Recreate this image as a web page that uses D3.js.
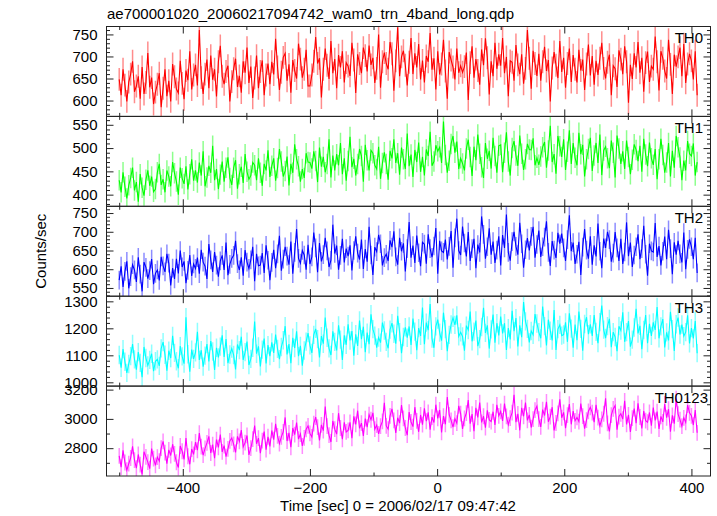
<!DOCTYPE html>
<html><head><meta charset="utf-8">
<script src="https://cdn.jsdelivr.net/npm/d3@7"></script>
<style>
html,body{margin:0;padding:0;background:#fff;}
svg{display:block;font-family:"Liberation Sans",Arial,Helvetica,sans-serif;}
</style></head><body>
<svg id="chart" width="717" height="516"></svg>
<script>
// ---------- data ----------
const title = "ae700001020_20060217094742_wam0_trn_4band_long.qdp";
const xLabel = "Time [sec] 0 = 2006/02/17 09:47:42";
const yLabel = "Counts/sec";
const bandNames = ["TH0", "TH1", "TH2", "TH3", "TH0123"];
const binStart = -500;   // time of first bin [sec]
const binWidth = 3;      // bin width [sec]
const errBars = [26, 22, 25, 34, 54];   // 1-sigma counting errors per band
const xTicks = [-400, -200, 0, 200, 400];
const yDomains = [[564, 768], [375, 568], [528, 768], [986, 1319], [2610, 3224]];
const yMajorStep = [50, 50, 50, 100, 200];
const yMinorStep = [10, 10, 10, 20, 100];

const th0 = [
648,612,671,635,598,642,660,689,620,633,655,604,676,615,641,708,630,652,592,619,
637,662,585,628,671,610,645,598,683,654,626,617,690,639,603,668,646,712,625,658,
681,634,760,652,615,660,693,628,702,647,671,609,688,724,655,637,666,679,598,643,
672,695,631,656,618,689,663,720,640,677,606,651,702,628,666,691,612,658,684,637,
688,659,740,676,624,664,698,707,645,682,618,692,668,650,729,694,652,671,715,633,
633,658,689,744,684,696,607,671,718,680,649,735,662,694,628,703,675,712,641,686,
678,656,731,692,617,705,684,662,720,702,666,725,681,697,640,673,750,629,688,709,
684,671,733,706,622,690,766,655,699,713,680,634,687,742,660,707,675,728,648,691,
641,701,688,753,670,696,625,712,659,683,738,667,604,710,692,676,648,718,663,679,
664,677,709,601,686,723,652,694,668,636,716,680,741,697,614,689,655,731,672,705,
679,742,662,699,610,690,687,645,726,681,660,705,638,673,760,696,627,713,684,656,
706,645,688,722,667,692,598,674,710,680,651,735,665,697,629,684,718,642,703,671,
641,715,668,693,624,683,727,657,701,636,690,658,696,731,673,650,687,704,612,679,
672,631,714,694,660,723,688,595,681,649,707,675,733,663,697,620,686,711,642,678,
671,745,688,623,712,696,667,650,738,682,615,704,677,699,720,655,728,640,683,706,
690,648,712,612];

const th1 = [
431,405,448,417,392,420,436,458,409,427,385,444,415,398,432,452,419,439,406,412,
448,466,421,433,405,452,439,418,470,446,428,400,458,435,423,461,411,444,476,430,
452,426,469,441,493,418,437,462,447,505,431,455,412,443,471,428,458,480,436,421,
458,474,413,444,460,425,487,449,433,441,469,463,431,478,447,419,466,452,495,438,
462,478,430,457,498,471,439,451,482,420,466,447,508,476,461,428,455,436,489,470,
469,456,493,472,427,501,460,481,448,466,519,437,484,452,487,463,511,444,478,430,
472,524,459,477,441,466,498,483,428,507,474,452,495,489,463,455,503,434,468,491,
466,432,494,478,519,468,489,443,501,476,455,531,461,486,438,496,470,512,449,481,
441,497,483,535,462,471,506,493,502,468,557,485,447,473,509,526,490,514,455,478,
467,452,499,518,481,440,503,474,529,488,459,436,511,477,494,456,522,483,447,505,
507,448,490,534,471,441,500,515,484,462,527,488,453,476,509,497,496,521,463,479,
464,482,502,513,458,495,548,470,487,445,526,504,481,519,453,492,538,466,511,479,
463,533,487,507,439,476,498,522,451,484,511,468,529,442,495,503,478,457,516,490,
437,527,499,466,493,455,516,481,444,475,508,496,472,505,449,520,486,461,512,478,
464,498,433,476,520,485,447,469,511,439,494,458,526,502,480,431,473,452,515,488,
483,510,441,470];

const th2 = [
571,608,553,594,621,549,580,612,598,566,632,587,541,619,605,575,596,627,560,589,
598,570,633,609,593,641,616,557,603,574,628,589,650,606,621,563,597,638,582,614,
602,631,588,652,619,608,574,667,625,593,646,611,580,622,637,598,671,584,613,629,
637,676,615,598,632,583,651,619,602,625,660,568,641,609,611,643,590,664,624,571,
618,652,603,641,689,596,627,660,635,612,674,588,645,707,629,616,650,638,599,665,
614,633,698,657,592,670,621,639,684,649,606,624,719,642,663,599,637,681,618,655,
635,664,597,650,688,643,626,679,601,654,620,713,638,585,659,647,692,668,610,631,
640,622,677,659,701,633,612,684,648,669,594,655,726,631,663,617,690,644,608,672,
667,615,693,655,632,662,710,588,676,649,645,679,626,661,702,604,684,735,650,638,
714,670,634,699,622,655,681,603,666,645,741,693,628,660,709,639,674,617,651,688,
610,691,657,746,645,623,674,700,661,639,724,668,604,652,683,650,688,713,631,666,
703,633,660,686,728,645,609,675,651,630,697,668,695,657,622,679,744,648,671,614,
640,673,585,659,707,651,628,688,612,664,634,722,648,603,682,657,700,679,620,643,
699,657,622,681,614,646,725,635,671,606,638,660,693,627,655,716,640,583,668,649,
646,723,633,662,610,648,687,627,705,655,587,672,639,676,641,618,698,600,653,680,
660,627,684,590];

const th3 = [
1101,1054,1123,1076,1035,1068,1097,1142,1085,1047,1112,1072,1019,1131,1090,1063,1083,1106,1041,1078,
1085,1061,1126,1149,1102,1043,1117,1090,1172,1109,1078,1052,1134,1096,1069,1241,1104,1039,1121,1087,
1111,1187,1083,1119,1058,1099,1142,1077,1153,1114,1046,1128,1092,1132,1174,1094,1160,1071,1103,1125,
1101,1048,1140,1119,1169,1083,1112,1151,1064,1087,1128,1225,1106,1133,1059,1121,1162,1070,1138,1097,
1148,1109,1177,1124,1086,1131,1156,1208,1103,1142,1071,1165,1127,1189,1097,1135,1062,1118,1151,1182,
1137,1109,1176,1198,1160,1092,1171,1143,1240,1165,1126,1101,1189,1150,1118,1211,1158,1083,1174,1139,
1215,1155,1190,1099,1178,1135,1229,1160,1206,1112,1184,1141,1252,1197,1173,1128,1166,1147,1221,1192,
1150,1126,1195,1219,1180,1143,1246,1186,1108,1168,1204,1165,1207,1138,1236,1188,1119,1201,1172,1277,
1141,1221,1193,1290,1162,1128,1207,1232,1184,1154,1258,1197,1115,1176,1214,1239,1213,1248,1170,1185,
1170,1117,1210,1194,1262,1152,1188,1229,1134,1160,1205,1276,1183,1211,1125,1196,1251,1147,1219,1174,
1244,1181,1219,1120,1201,1159,1265,1189,1238,1133,1211,1167,1297,1226,1198,1148,1190,1176,1253,1218,
1186,1163,1281,1208,1137,1232,1191,1155,1268,1120,1197,1213,1173,1177,1222,1150,1256,1199,1128,1214,
1156,1262,1198,1117,1216,1241,1178,1215,1172,1249,1187,1145,1223,1284,1195,1164,1208,1235,1130,1186,
1168,1115,1208,1192,1259,1150,1186,1227,1132,1158,1203,1272,1181,1209,1123,1194,1249,1145,1217,1172,
1222,1194,1279,1163,1207,1234,1129,1185,1155,1261,1197,1116,1215,1240,1177,1214,1171,1186,1248,1144,
1201,1163,1227,1108];

const th0123 = [
2748,2671,2785,2702,2650,2694,2733,2812,2719,2663,2757,2688,2621,2776,2741,2705,2660,2797,2729,2683,
2739,2712,2801,2846,2770,2695,2788,2750,2827,2761,2704,2668,2815,2779,2723,2869,2745,2690,2794,2758,
2842,2786,2903,2811,2752,2799,2836,2881,2767,2824,2731,2859,2806,2893,2775,2818,2742,2795,2850,2870,
2826,2771,2881,2846,2924,2809,2838,2887,2754,2801,2862,2955,2830,2869,2766,2851,2913,2790,2878,2812,
2921,2858,2966,2884,2831,2877,2912,3010,2849,2905,2806,2938,2893,2975,2862,2897,2815,2871,2929,2952,
2901,2877,2968,3012,2944,2853,2959,2920,3085,2951,2889,2842,2986,2930,2896,3039,2938,2861,2977,2911,
2921,2976,2868,3017,2962,3056,2935,2971,2884,3002,2944,3029,2994,3041,2930,2958,2897,2950,2983,3110,
2952,2930,3021,3068,2990,2905,3008,2971,3094,3003,2938,2889,3046,2979,2947,3080,2986,2912,3027,2961,
3072,2984,3045,2926,3012,2975,3097,3003,3061,2908,3019,2963,3150,3028,2990,2944,3001,2971,3089,3036,
2931,3003,3040,3128,2967,3033,2916,3075,3010,3111,2976,3018,2940,3058,2993,2982,3049,2958,3096,3021,
3051,2986,3104,3017,2960,3005,3043,3165,2978,3034,2922,3076,3018,3112,2990,3027,2941,2999,3060,3087,
2998,2945,3063,3023,3116,2981,3015,3080,2921,2972,3038,3133,3008,3045,2936,3026,3101,2963,3054,2987,
3010,2982,3104,3019,2933,2991,3052,3079,3043,2978,3096,3009,2952,2997,3035,3140,2970,2914,3026,3068,
3091,2926,3016,3035,2998,3123,2962,3028,2911,3005,3070,2971,3106,3013,2935,3053,2988,2977,3044,2953,
3077,2989,3050,2931,3017,2980,3102,3008,3066,2912,3024,2968,3138,3033,2995,2950,3007,2976,3094,3041,
3021,2958,3060,2905];

const seriesValues = [th0, th1, th2, th3, th0123];
const colors = ["#ff0000", "#00ff00", "#0000ff", "#00ffff", "#ff00ff"];

// ---------- layout ----------
const plotL = 106.5, plotR = 710.5, plotT = 26.5, plotB = 476;
const nP = bandNames.length;
const pH = (plotB - plotT) / nP;
const frameColor = "#222";
const fontSize = 15;

const svg = d3.select("#chart");
const x = d3.scaleLinear().domain([-520, 430]).range([plotL, plotR]);
const xMinor = d3.range(-500, 401, 100).filter(v => !xTicks.includes(v));

svg.append("text").attr("x", 107).attr("y", 19)
  .attr("font-size", fontSize).attr("fill", "#000").text(title);

const defs = svg.append("defs");

const style = sel => {
  sel.select(".domain").remove();
  sel.selectAll("line").attr("stroke", frameColor).attr("stroke-width", 1);
  sel.selectAll("text").attr("font-size", fontSize).attr("fill", "#000")
    .attr("font-family", '"Liberation Sans",Arial,Helvetica,sans-serif');
};

bandNames.forEach((name, p) => {
  const y0 = plotT + p * pH, y1 = y0 + pH;
  const y = d3.scaleLinear().domain(yDomains[p]).range([y1, y0]);
  const vals = seriesValues[p];
  const pts = vals.map((v, i) => ({t: binStart + i * binWidth, v}));
  const e = errBars[p];

  defs.append("clipPath").attr("id", "clip" + p)
    .append("rect").attr("x", plotL).attr("y", y0).attr("width", plotR - plotL).attr("height", pH);

  const g = svg.append("g").attr("clip-path", `url(#clip${p})`);
  g.append("g").selectAll("line").data(pts).join("line")
    .attr("x1", d => x(d.t)).attr("x2", d => x(d.t))
    .attr("y1", d => y(d.v - e)).attr("y2", d => y(d.v + e))
    .attr("stroke", colors[p]).attr("stroke-opacity", 0.45).attr("stroke-width", 1.5);
  g.append("path").datum(pts)
    .attr("d", d3.line().x(d => x(d.t)).y(d => y(d.v)))
    .attr("fill", "none").attr("stroke", colors[p]).attr("stroke-width", 1.1);

  const [d0, d1] = yDomains[p];
  const majorY = d3.range(Math.ceil(d0 / yMajorStep[p]) * yMajorStep[p], d1 + 0.001, yMajorStep[p]);
  const minorY = d3.range(Math.ceil(d0 / yMinorStep[p]) * yMinorStep[p], d1 + 0.001, yMinorStep[p])
    .filter(v => v % yMajorStep[p] !== 0);

  svg.append("g").attr("transform", `translate(${plotL},0)`)
    .call(d3.axisLeft(y).tickValues(majorY).tickSize(-7).tickSizeOuter(0).tickPadding(9).tickFormat(d3.format("d")))
    .call(style);
  svg.append("g").attr("transform", `translate(${plotL},0)`)
    .call(d3.axisLeft(y).tickValues(minorY).tickSize(-3.5).tickSizeOuter(0).tickFormat(""))
    .call(style);
  svg.append("g").attr("transform", `translate(${plotR},0)`)
    .call(d3.axisRight(y).tickValues(majorY).tickSize(-7).tickSizeOuter(0).tickFormat(""))
    .call(style);
  svg.append("g").attr("transform", `translate(${plotR},0)`)
    .call(d3.axisRight(y).tickValues(minorY).tickSize(-3.5).tickSizeOuter(0).tickFormat(""))
    .call(style);

  svg.append("g").attr("transform", `translate(0,${y0})`)
    .call(d3.axisTop(x).tickValues(xTicks).tickSize(-7).tickSizeOuter(0).tickFormat(""))
    .call(style);
  svg.append("g").attr("transform", `translate(0,${y0})`)
    .call(d3.axisTop(x).tickValues(xMinor).tickSize(-3.5).tickSizeOuter(0).tickFormat(""))
    .call(style);
  const last = p === nP - 1;
  svg.append("g").attr("transform", `translate(0,${y1})`)
    .call(d3.axisBottom(x).tickValues(xTicks).tickSize(-7).tickSizeOuter(0).tickPadding(6)
      .tickFormat(last ? d3.format("d") : ""))
    .call(style);
  svg.append("g").attr("transform", `translate(0,${y1})`)
    .call(d3.axisBottom(x).tickValues(xMinor).tickSize(-3.5).tickSizeOuter(0).tickFormat(""))
    .call(style);

  svg.append("rect").attr("x", plotL).attr("y", y0).attr("width", plotR - plotL).attr("height", pH)
    .attr("fill", "none").attr("stroke", frameColor).attr("stroke-width", 1);

  svg.append("text").attr("x", last ? 708 : 703).attr("y", y0 + 16.5)
    .attr("text-anchor", "end").attr("font-size", fontSize).attr("fill", "#000").text(name);
});

svg.append("text").attr("x", 398).attr("y", 511).attr("text-anchor", "middle")
  .attr("font-size", fontSize).attr("fill", "#000").text(xLabel);
svg.append("text").attr("transform", `translate(46,${(plotT + plotB) / 2}) rotate(-90)`)
  .attr("text-anchor", "middle").attr("font-size", fontSize).attr("fill", "#000").text(yLabel);
</script>
</body></html>
